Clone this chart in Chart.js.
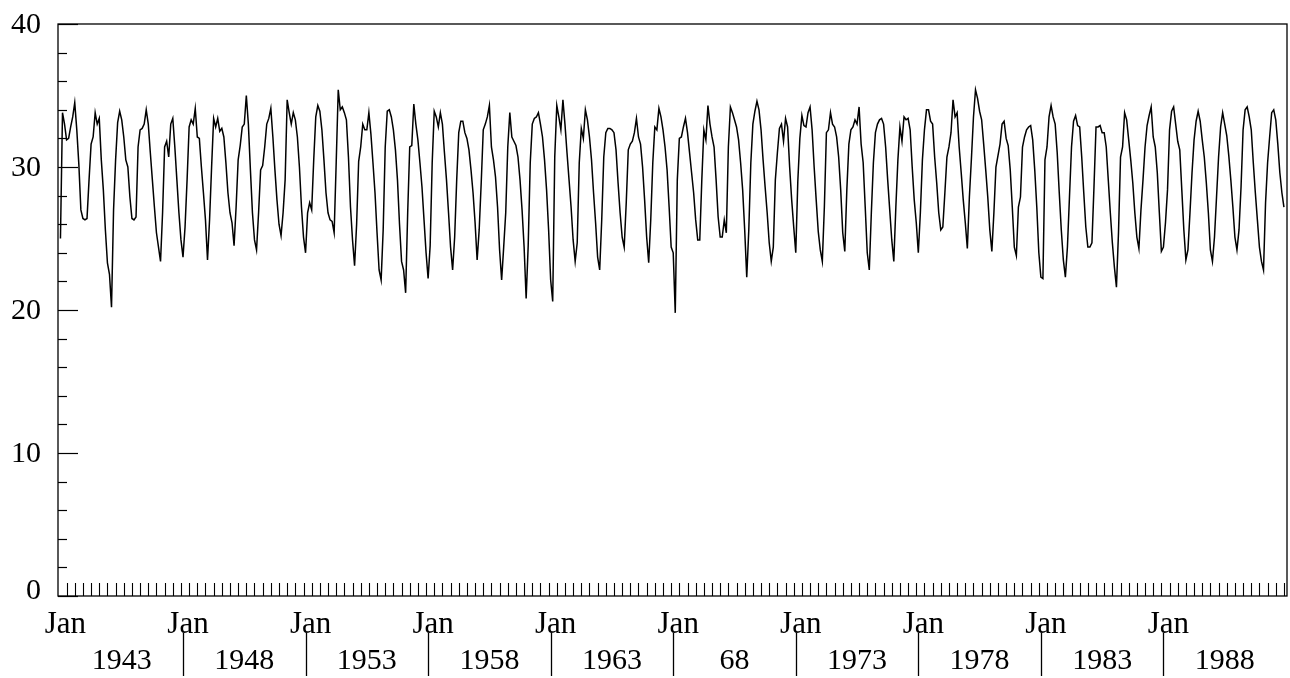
<!DOCTYPE html>
<html>
<head>
<meta charset="utf-8">
<script src="https://cdn.jsdelivr.net/npm/chart.js@4/dist/chart.umd.min.js"></script>
<style>
  html, body { margin: 0; padding: 0; background: #fff; }
  #wrap { width: 1290px; height: 678px; }
</style>
</head>
<body>
<div id="wrap"><canvas id="c" width="1290" height="678"></canvas></div>
<script>
// Monthly series, Jan 1941 .. Dec 1990 (one row per year, Jan..Dec)
const startYear = 1941;
const monthlyValues = [
  25.0, 33.8, 33.0, 31.9, 32.0, 32.8, 33.5, 34.5, 32.6, 30.2, 27.0, 26.4, // 1941
  26.3, 26.4, 29.1, 31.6, 32.1, 33.8, 33.0, 33.4, 30.5, 28.4, 25.6, 23.3, // 1942
  22.5, 20.2, 27.0, 30.5, 33.1, 33.9, 33.3, 32.1, 30.5, 30.0, 27.9, 26.4, // 1943
  26.3, 26.5, 31.4, 32.6, 32.7, 33.0, 34.0, 33.0, 31.0, 29.1, 27.2, 25.4, // 1944
  24.4, 23.4, 26.8, 31.4, 31.8, 30.7, 33.0, 33.4, 31.4, 29.1, 26.8, 24.9, // 1945
  23.7, 25.8, 29.1, 32.8, 33.3, 33.0, 34.1, 32.1, 32.0, 30.0, 28.2, 26.3, // 1946
  23.5, 26.3, 30.0, 33.4, 32.8, 33.4, 32.5, 32.7, 32.1, 30.3, 28.2, 26.8, // 1947
  26.1, 24.5, 27.2, 30.5, 31.5, 32.8, 33.0, 35.0, 33.0, 29.8, 26.8, 24.9, // 1948
  24.2, 26.8, 29.8, 30.1, 31.4, 33.0, 33.4, 34.1, 32.1, 29.8, 27.7, 26.0, // 1949
  25.2, 26.8, 29.1, 34.7, 33.8, 33.0, 33.8, 33.3, 32.1, 30.0, 27.2, 25.1, // 1950
  24.0, 26.8, 27.5, 27.0, 30.5, 33.5, 34.3, 33.9, 32.6, 30.5, 28.2, 26.8, // 1951
  26.3, 26.2, 25.4, 30.3, 35.4, 34.0, 34.2, 33.8, 33.3, 30.7, 27.2, 24.9, // 1952
  23.1, 26.0, 30.4, 31.4, 33.0, 32.6, 32.6, 33.8, 32.3, 30.3, 28.2, 25.4, // 1953
  22.8, 22.1, 25.6, 31.4, 33.9, 34.0, 33.5, 32.6, 31.2, 29.1, 26.0, 23.4, // 1954
  22.8, 21.2, 26.8, 31.4, 31.5, 34.4, 33.0, 31.9, 30.3, 28.6, 26.3, 24.0, // 1955
  22.2, 24.5, 30.3, 33.9, 33.5, 32.8, 33.8, 33.0, 31.0, 29.1, 26.8, 24.4, // 1956
  22.8, 25.1, 29.1, 32.4, 33.2, 33.2, 32.4, 32.0, 31.2, 29.8, 28.2, 26.1, // 1957
  23.5, 25.6, 28.9, 32.6, 33.0, 33.5, 34.3, 31.4, 30.5, 29.3, 27.2, 24.2, // 1958
  22.1, 24.4, 26.8, 31.4, 33.8, 32.1, 31.8, 31.5, 30.7, 29.1, 27.0, 24.4, // 1959
  20.8, 24.5, 30.3, 33.0, 33.4, 33.5, 33.8, 33.0, 32.1, 30.5, 28.4, 25.6, // 1960
  22.1, 20.6, 30.7, 34.3, 33.5, 32.6, 34.7, 33.0, 31.0, 29.1, 27.2, 24.9, // 1961
  23.4, 24.7, 30.3, 32.7, 32.0, 34.0, 33.3, 32.1, 30.5, 28.2, 26.1, 23.7, // 1962
  22.8, 26.3, 30.7, 32.4, 32.7, 32.7, 32.6, 32.4, 31.2, 28.9, 26.8, 25.1, // 1963
  24.4, 27.5, 31.2, 31.6, 31.8, 32.4, 33.4, 32.1, 31.6, 30.0, 27.7, 25.1, // 1964
  23.3, 26.3, 30.3, 32.8, 32.6, 34.1, 33.5, 32.6, 31.4, 29.8, 27.2, 24.4, // 1965
  24.0, 19.8, 29.1, 32.0, 32.1, 32.8, 33.4, 32.4, 31.0, 29.6, 28.2, 26.3, // 1966
  24.9, 24.9, 29.1, 32.6, 31.9, 34.3, 33.0, 32.1, 31.4, 29.1, 26.5, 25.1, // 1967
  25.1, 26.3, 25.4, 31.4, 34.2, 33.8, 33.3, 32.8, 31.9, 30.3, 28.4, 25.6, // 1968
  22.3, 25.6, 30.3, 33.0, 33.9, 34.6, 34.0, 32.6, 30.5, 28.6, 26.8, 24.7, // 1969
  23.4, 24.4, 29.1, 31.0, 32.7, 33.0, 31.8, 33.4, 32.8, 30.0, 27.7, 25.8, // 1970
  24.0, 29.0, 32.0, 33.6, 32.9, 32.8, 33.8, 34.2, 32.6, 30.0, 27.7, 25.5, // 1971
  24.2, 23.4, 27.2, 32.4, 32.6, 33.8, 33.0, 32.8, 32.1, 30.7, 28.4, 25.4, // 1972
  24.1, 28.4, 31.6, 32.6, 32.8, 33.3, 33.0, 34.2, 31.6, 30.3, 27.2, 24.0, // 1973
  22.8, 26.8, 30.3, 32.4, 33.0, 33.3, 33.4, 33.0, 31.4, 29.1, 27.0, 24.9, // 1974
  23.4, 27.2, 30.5, 32.8, 31.8, 33.5, 33.3, 33.4, 32.6, 30.0, 27.7, 26.1, // 1975
  24.0, 26.8, 30.5, 32.6, 34.0, 34.0, 33.2, 33.0, 30.7, 28.9, 26.8, 25.6, // 1976
  25.8, 28.2, 30.7, 31.4, 32.4, 34.7, 33.5, 33.8, 31.4, 29.6, 27.7, 26.1, // 1977
  24.3, 27.9, 30.6, 33.5, 35.4, 34.8, 33.9, 33.3, 31.6, 29.8, 27.9, 25.6, // 1978
  24.1, 26.8, 30.0, 30.8, 31.6, 33.0, 33.2, 32.0, 31.5, 29.8, 27.2, 24.4, // 1979
  23.8, 27.2, 27.9, 31.4, 32.1, 32.6, 32.8, 32.9, 31.9, 29.8, 27.2, 24.0, // 1980
  22.3, 22.2, 30.5, 31.4, 33.5, 34.3, 33.5, 33.0, 31.0, 28.2, 25.6, 23.5, // 1981
  22.3, 24.4, 27.9, 31.4, 33.2, 33.6, 32.9, 32.8, 30.7, 28.2, 25.8, 24.4, // 1982
  24.4, 24.7, 28.6, 32.8, 32.8, 32.9, 32.4, 32.4, 31.4, 29.1, 26.8, 24.7, // 1983
  23.0, 21.6, 25.4, 30.7, 31.4, 33.8, 33.3, 31.9, 30.5, 28.9, 26.8, 25.1, // 1984
  24.3, 27.0, 29.1, 31.4, 32.9, 33.6, 34.2, 32.1, 31.4, 29.6, 26.8, 24.1, // 1985
  24.4, 26.1, 28.4, 32.6, 33.9, 34.2, 33.0, 31.8, 31.2, 28.4, 25.6, 23.5, // 1986
  24.2, 26.8, 29.6, 31.9, 33.2, 33.9, 33.2, 31.9, 30.7, 28.9, 26.8, 24.2, // 1987
  23.4, 25.1, 27.9, 30.7, 32.8, 33.8, 33.0, 32.2, 30.8, 29.1, 27.2, 25.1, // 1988
  24.2, 25.6, 28.6, 32.6, 34.0, 34.2, 33.5, 32.6, 30.3, 28.2, 26.3, 24.4, // 1989
  23.4, 22.8, 27.5, 30.3, 32.1, 33.8, 34.0, 33.3, 31.6, 29.6, 28.2, 27.2  // 1990
];

// Axis labels
const yTickValues = [0, 10, 20, 30, 40];
const periodLabel = "Jan";
const periodYearLabels = ["1943", "1948", "1953", "1958", "1963", "68", "1973", "1978", "1983", "1988"];
const monthsPerPeriod = 60;

const points = monthlyValues.map((v, i) => ({ x: i, y: v }));
const FONT = '"Liberation Serif", "Times New Roman", serif';

const axesPlugin = {
  id: 'axesPlugin',
  afterDraw(chart) {
    const { ctx, chartArea: { left, right, top, bottom }, scales: { x, y } } = chart;
    ctx.save();
    ctx.strokeStyle = '#000';
    ctx.fillStyle = '#000';
    // frame
    ctx.lineWidth = 1.3;
    ctx.strokeRect(left, top, right - left, bottom - top);

    // y ticks (inside), minor every 2, major every 10
    ctx.lineWidth = 1.2;
    for (let v = 0; v <= 40; v += 2) {
      const py = Math.round(y.getPixelForValue(v)) + 0.5;
      const len = (v % 10 === 0) ? 20 : 9;
      ctx.beginPath();
      ctx.moveTo(left, py);
      ctx.lineTo(left + len, py);
      ctx.stroke();
    }
    // y labels
    ctx.font = '30px ' + FONT;
    ctx.textAlign = 'right';
    ctx.textBaseline = 'middle';
    yTickValues.forEach(v => {
      const py = y.getPixelForValue(v);
      ctx.fillText(String(v), left - 17, v === 0 ? py - 5 : py + 1);
    });

    // x ticks (inside), every 4 months
    ctx.lineWidth = 1.1;
    for (let m = 3; m < monthlyValues.length; m += 4) {
      const px = Math.round(x.getPixelForValue(m)) + 0.5;
      ctx.beginPath();
      ctx.moveTo(px, bottom);
      ctx.lineTo(px, bottom - 13);
      ctx.stroke();
    }

    // period labels
    const nPeriods = periodYearLabels.length;
    ctx.textAlign = 'center';
    ctx.textBaseline = 'alphabetic';
    for (let k = 0; k < nPeriods; k++) {
      const px0 = x.getPixelForValue(k * monthsPerPeriod);
      const pxm = x.getPixelForValue(k * monthsPerPeriod + monthsPerPeriod / 2);
      ctx.font = '31px ' + FONT;
      ctx.fillText(periodLabel, px0 + 5, bottom + 37);
      ctx.font = '30px ' + FONT;
      ctx.fillText(periodYearLabels[k], pxm, bottom + 73);
      if (k > 0) {
        ctx.lineWidth = 1.3;
        ctx.beginPath();
        ctx.moveTo(Math.round(px0) + 0.5, bottom + 37);
        ctx.lineTo(Math.round(px0) + 0.5, bottom + 80);
        ctx.stroke();
      }
    }
    ctx.restore();
  }
};

new Chart(document.getElementById('c'), {
  type: 'line',
  data: {
    datasets: [{
      data: points,
      borderColor: '#000',
      borderWidth: 1.5,
      pointRadius: 0,
      tension: 0,
      fill: false
    }]
  },
  options: {
    responsive: false,
    animation: false,
    maintainAspectRatio: false,
    layout: { padding: { left: 58, right: 3, top: 24, bottom: 82 } },
    plugins: { legend: { display: false }, tooltip: { enabled: false } },
    scales: {
      x: { type: 'linear', min: -1.2, max: 600.5, display: false },
      y: { type: 'linear', min: 0, max: 40, display: false }
    }
  },
  plugins: [axesPlugin]
});
</script>
</body>
</html>
